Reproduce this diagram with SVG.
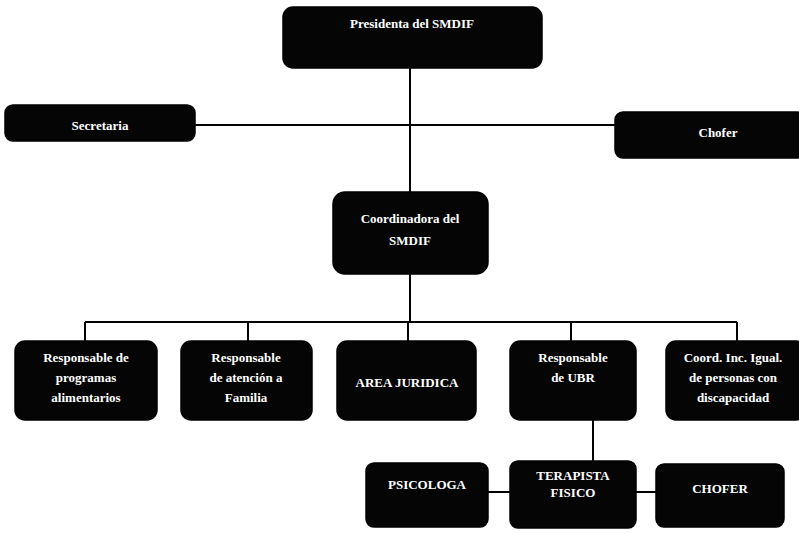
<svg xmlns="http://www.w3.org/2000/svg" width="799" height="534" viewBox="0 0 799 534">
<style>
.box{fill:#050505;stroke:#000;stroke-width:1.5}
.t{font-family:"Liberation Serif","Times New Roman",serif;font-weight:bold;font-size:13px;fill:#fff;text-anchor:middle}
.c{stroke:#000;stroke-width:2;fill:none}
</style>
<rect width="799" height="534" fill="#fff"/>
<g id="connectors">
<path class="c" d="M410 68V192"/>
<path class="c" d="M195 125H615"/>
<path class="c" d="M410 274V322"/>
<path class="c" d="M85 322H737"/>
<path class="c" d="M85 322V342M248 322V342M408 322V342M571 322V342M737 322V342"/>
<path class="c" d="M593 420V462"/>
<path class="c" d="M488 492H510M636 492H656"/>
</g>
<g id="presidenta"><rect class="box" x="283" y="7" width="259" height="61" rx="10"/><text class="t" x="412" y="28" font-size="16">Presidenta del SMDIF</text></g>
<g id="secretaria"><rect class="box" x="5" y="105" width="190" height="36" rx="8"/><text class="t" x="100" y="130" font-size="14">Secretaria</text></g>
<g id="chofer1"><rect class="box" x="615" y="112" width="190" height="46" rx="8"/><text class="t" x="718" y="137" font-size="14">Chofer</text></g>
<g id="coordinadora"><rect class="box" x="333" y="192" width="155" height="82" rx="12"/><text class="t" x="410" y="223">Coordinadora del</text><text class="t" x="410" y="245">SMDIF</text></g>
<g id="alimentarios"><rect class="box" x="15" y="341" width="142" height="79" rx="10"/><text class="t" x="86" y="362">Responsable de</text><text class="t" x="86" y="382">programas</text><text class="t" x="86" y="402">alimentarios</text></g>
<g id="familia"><rect class="box" x="181" y="341" width="131" height="79" rx="10"/><text class="t" x="246" y="362">Responsable</text><text class="t" x="246" y="382">de atención a</text><text class="t" x="246" y="402">Familia</text></g>
<g id="juridica"><rect class="box" x="337" y="341" width="139" height="79" rx="10"/><text class="t" x="407" y="387">AREA JURIDICA</text></g>
<g id="ubr"><rect class="box" x="510" y="341" width="126" height="79" rx="10"/><text class="t" x="573" y="362">Responsable</text><text class="t" x="573" y="382">de UBR</text></g>
<g id="discapacidad"><rect class="box" x="666" y="341" width="140" height="79" rx="10"/><text class="t" x="733" y="362">Coord. Inc. Igual.</text><text class="t" x="733" y="382">de personas con</text><text class="t" x="733" y="402">discapacidad</text></g>
<g id="psicologa"><rect class="box" x="366" y="463" width="122" height="64" rx="8"/><text class="t" x="427" y="489">PSICOLOGA</text></g>
<g id="terapista"><rect class="box" x="510" y="461" width="126" height="67" rx="8"/><text class="t" x="573" y="480">TERAPISTA</text><text class="t" x="573" y="497">FISICO</text></g>
<g id="chofer2"><rect class="box" x="656" y="464" width="128" height="63" rx="8"/><text class="t" x="720" y="493">CHOFER</text></g>
</svg>
